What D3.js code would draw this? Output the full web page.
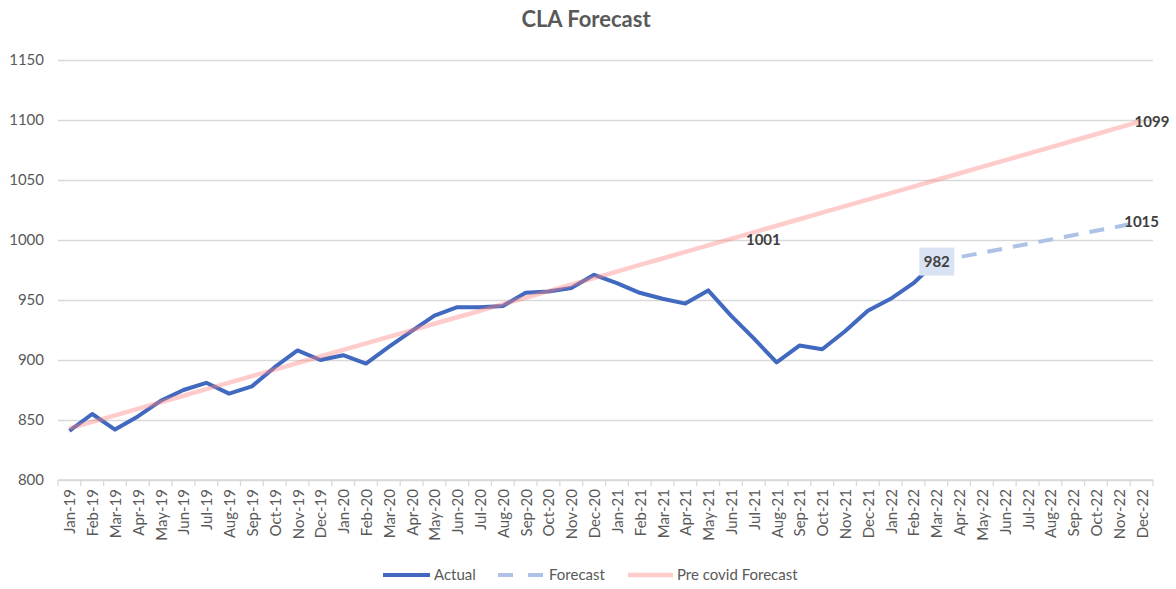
<!DOCTYPE html>
<html>
<head>
<meta charset="utf-8">
<script src="https://cdn.jsdelivr.net/npm/d3@7"></script>
<style>
  body { margin: 0; background: #fff; }
  svg { font-family: Lato, "Open Sans", sans-serif; }
</style>
</head>
<body>
<svg width="1176" height="589"></svg>
<script>
// month labels, Jan-19 .. Dec-22
const months = [
  'Jan-19','Feb-19','Mar-19','Apr-19','May-19','Jun-19','Jul-19','Aug-19','Sep-19','Oct-19','Nov-19','Dec-19',
  'Jan-20','Feb-20','Mar-20','Apr-20','May-20','Jun-20','Jul-20','Aug-20','Sep-20','Oct-20','Nov-20','Dec-20',
  'Jan-21','Feb-21','Mar-21','Apr-21','May-21','Jun-21','Jul-21','Aug-21','Sep-21','Oct-21','Nov-21','Dec-21',
  'Jan-22','Feb-22','Mar-22','Apr-22','May-22','Jun-22','Jul-22','Aug-22','Sep-22','Oct-22','Nov-22','Dec-22'
];

// actual, Jan-19 .. Mar-22
const actual = [
  841, 855, 842, 853, 866, 875, 881, 872, 878, 894, 908, 900,
  904, 897, 911, 924, 937, 944, 944, 945, 956, 957, 960, 971,
  964, 956, 951, 947, 958, 937, 918, 898, 912, 909, 924, 941,
  951, 964, 982
];

// forecast, Mar-22 .. Dec-22
const forecastMonths = ['Mar-22','Apr-22','May-22','Jun-22','Jul-22','Aug-22','Sep-22','Oct-22','Nov-22','Dec-22'];
const forecast = [982, 985.7, 989.3, 993.0, 996.7, 1000.3, 1004.0, 1007.7, 1011.3, 1015];

// pre covid forecast, Jan-19 .. Dec-22
const preCovid = [
  843.0, 848.4, 853.9, 859.3, 864.8, 870.2, 875.7, 881.1, 886.6, 892.0, 897.5, 902.9,
  908.4, 913.8, 919.3, 924.7, 930.2, 935.6, 941.0, 946.5, 951.9, 957.4, 962.8, 968.3,
  973.7, 979.2, 984.6, 990.1, 995.5, 1001.0, 1006.4, 1011.9, 1017.3, 1022.8, 1028.2, 1033.6,
  1039.1, 1044.5, 1050.0, 1055.4, 1060.9, 1066.3, 1071.8, 1077.2, 1082.7, 1088.1, 1093.6, 1099.0
];

const yTicks = [800, 850, 900, 950, 1000, 1050, 1100, 1150];

const svg = d3.select('svg');

const x = d3.scaleBand().domain(months).range([58, 1153]);
const y = d3.scaleLinear().domain([800, 1150]).range([480, 60]);
const cx = m => x(m) + x.bandwidth() / 2;

// title
svg.append('text')
  .attr('x', 586).attr('y', 27)
  .attr('text-anchor', 'middle')
  .attr('font-size', 22).attr('font-weight', 'bold')
  .attr('fill', '#595959')
  .text('CLA Forecast');

// gridlines + y labels
const yAxis = svg.append('g').attr('transform', 'translate(58,0)')
  .call(d3.axisLeft(y).tickValues(yTicks).tickSize(-1095).tickPadding(14).tickFormat(d3.format('d')));
yAxis.select('.domain').remove();
yAxis.selectAll('line').attr('stroke', '#d9d9d9').attr('stroke-width', 1.3);
yAxis.selectAll('text').attr('fill', '#595959').attr('font-size', 15).attr('font-family', 'Lato, sans-serif');

// x axis with ticks between categories
const xAxis = svg.append('g').attr('transform', 'translate(0,480)');
xAxis.append('line')
  .attr('x1', 58).attr('x2', 1153)
  .attr('stroke', '#d9d9d9').attr('stroke-width', 1.3);
xAxis.selectAll('line.tick')
  .data(months.concat(['end']))
  .join('line')
  .attr('class', 'tick')
  .attr('x1', (d, i) => 58 + i * x.bandwidth())
  .attr('x2', (d, i) => 58 + i * x.bandwidth())
  .attr('y1', 0).attr('y2', 6)
  .attr('stroke', '#d9d9d9').attr('stroke-width', 1.3);
xAxis.selectAll('text')
  .data(months)
  .join('text')
  .attr('transform', d => `translate(${cx(d) + 6},9) rotate(-90)`)
  .attr('text-anchor', 'end')
  .attr('font-size', 15)
  .attr('fill', '#595959')
  .text(d => d);

const line = d3.line().x(d => cx(d[0])).y(d => y(d[1]));

// actual
svg.append('path')
  .datum(actual.map((v, i) => [months[i], v]))
  .attr('d', line)
  .attr('fill', 'none').attr('stroke', '#4169c0').attr('stroke-width', 4)
  .attr('stroke-linejoin', 'round');

// forecast
svg.append('path')
  .datum(forecast.map((v, i) => [forecastMonths[i], v]))
  .attr('d', line)
  .attr('fill', 'none').attr('stroke', '#adc2e6').attr('stroke-width', 4)
  .attr('stroke-dasharray', '15,11');

// pre covid forecast
svg.append('path')
  .datum(preCovid.map((v, i) => [months[i], v]))
  .attr('d', line)
  .attr('fill', 'none').attr('stroke', '#ff8080').attr('stroke-opacity', 0.4).attr('stroke-width', 4.5);

// data labels
const labelStyle = sel => sel.attr('font-size', 15).attr('font-weight', 'bold').attr('fill', '#404040');

const mar22 = actual.length - 1;
svg.append('rect')
  .attr('x', cx(months[mar22]) - 17).attr('y', y(actual[mar22]) - 14)
  .attr('width', 35).attr('height', 28)
  .attr('fill', '#dae3f3');
svg.append('text')
  .attr('x', cx(months[mar22]) + 0.5).attr('y', y(actual[mar22]) + 5)
  .attr('text-anchor', 'middle')
  .call(labelStyle)
  .text(d3.format('d')(actual[mar22]));

const jun21 = months.indexOf('Jun-21');
svg.append('text')
  .attr('x', cx(months[jun21]) + 15).attr('y', y(preCovid[jun21]) + 6)
  .call(labelStyle)
  .text(d3.format('d')(preCovid[jun21]));

svg.append('text')
  .attr('x', cx('Dec-22') - 7).attr('y', y(preCovid[47]) + 6)
  .call(labelStyle)
  .text(d3.format('d')(preCovid[47]));

svg.append('text')
  .attr('x', cx('Dec-22')).attr('y', y(forecast[forecast.length - 1]) + 5)
  .attr('text-anchor', 'middle')
  .call(labelStyle)
  .text(d3.format('d')(forecast[forecast.length - 1]));

// legend
const legend = svg.append('g').attr('font-size', 15).attr('fill', '#595959');
legend.append('line').attr('x1', 383).attr('x2', 430).attr('y1', 575).attr('y2', 575)
  .attr('stroke', '#4169c0').attr('stroke-width', 4);
legend.append('text').attr('x', 434).attr('y', 580).text('Actual');
legend.append('line').attr('x1', 498).attr('x2', 543).attr('y1', 575).attr('y2', 575)
  .attr('stroke', '#adc2e6').attr('stroke-width', 4).attr('stroke-dasharray', '15,15');
legend.append('text').attr('x', 549).attr('y', 580).text('Forecast');
legend.append('line').attr('x1', 628).attr('x2', 673).attr('y1', 575).attr('y2', 575)
  .attr('stroke', '#ff8080').attr('stroke-opacity', 0.4).attr('stroke-width', 4.5);
legend.append('text').attr('x', 677).attr('y', 580).text('Pre covid Forecast');
</script>
</body>
</html>
